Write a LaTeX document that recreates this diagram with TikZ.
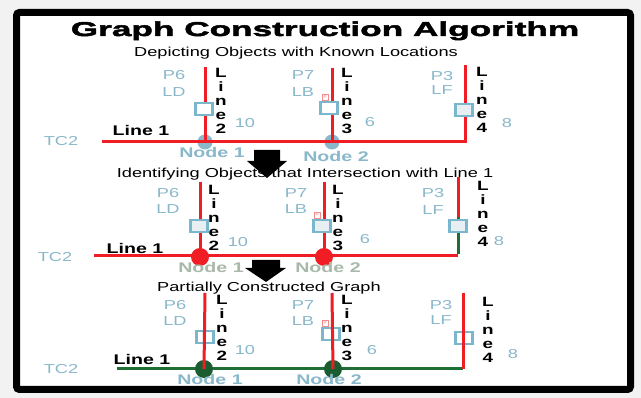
\documentclass[tikz,border=0pt]{standalone}
\usepackage{fontspec}
\setmainfont{Liberation Sans}[FakeStretch=1.4]
\newfontfamily\titlefont{Liberation Sans}[FakeStretch=1.76,BoldFeatures={FakeBold=2.5}]
\definecolor{bgc}{HTML}{F2F2F2}
\definecolor{redc}{HTML}{F01E24}
\definecolor{lbc}{HTML}{8AB8CB}
\definecolor{sqc}{HTML}{7AB6CC}
\definecolor{sqfill}{HTML}{E8EFF3}
\definecolor{grayn}{HTML}{A8B8A9}
\definecolor{greenc}{HTML}{1E6E35}
\definecolor{dgreen}{HTML}{1B5C31}
\definecolor{pinkc}{HTML}{F28B8B}
\begin{document}
\begin{tikzpicture}[x=1pt,y=-1pt,
 redl/.style={draw=redc,line width=3},
 greenl/.style={draw=greenc,line width=3},
 sq/.style={draw=sqc,line width=2.4,minimum width=17,minimum height=12,inner sep=0,fill=white},
 sqf/.style={sq,fill=sqfill},
 lbl/.style={text=lbc,font=\fontsize{13}{15}\selectfont,inner sep=0,anchor=base},
 vlet/.style={font=\fontsize{13.5}{14}\selectfont\bfseries,align=center,inner sep=0,anchor=north},
 nlbl/.style={text=lbc,font=\fontsize{14}{16}\selectfont\bfseries,inner sep=0,anchor=base},
 glbl/.style={nlbl,text=grayn},
 lone/.style={font=\fontsize{14}{16}\selectfont\bfseries,inner sep=0,anchor=base},
 sub/.style={font=\fontsize{13}{15}\selectfont,inner sep=0,anchor=base},
 bdot/.style={circle,fill=lbc,minimum size=15,inner sep=0},
 rdot/.style={circle,fill=redc,minimum size=18,inner sep=0},
 gdot/.style={circle,fill=dgreen,minimum size=18,inner sep=0},
 pink/.style={draw=pinkc,line width=0.8,fill=white,minimum size=6,inner sep=0,text=pinkc,font=\fontsize{6}{6}\selectfont}
]
\useasboundingbox (0,0) rectangle (641,398);
\fill[bgc] (0,0) rectangle (641,398);
\draw[line width=7,rounded corners=3,fill=white] (16.5,12.5) rectangle (630.5,389.5);

% title
\node[inner sep=0,anchor=base,font=\titlefont\bfseries\fontsize{20}{22}\selectfont] (title) at (325,36) {Graph Construction Algorithm};
\node[sub] (sub1) at (296,57) {Depicting Objects with Known Locations};

% ---------------- section 1
\node[bdot] (s1n1) at (205,142) {};
\node[bdot] (s1n2) at (332,142) {};
\coordinate (s1l) at (102,142);
\coordinate (s1r) at (465,142);
\coordinate (s1t2) at (205,67);
\coordinate (s1t3) at (332,68);
\coordinate (s1t4) at (465,65);
\draw[redl] (s1l) -- (s1r) -- (s1t4);
\draw[redl] (s1t2) -- (s1n1.center);
\draw[redl] (s1t3) -- (s1n2.center);
\node[sq] (s1q2) at (204,109) {};
\node[sq] (s1q3) at (329,108) {};
\node[sqf] (s1q4) at (464,110) {};
\node[pink] (s1p) at (325,97) {+};
\node[lbl] (s1P6) at (174,79.7) {P6};
\node[lbl] (s1LD) at (174,96.7) {LD};
\node[lbl] (s1P7) at (303,79.7) {P7};
\node[lbl] (s1LB) at (303,96.7) {LB};
\node[lbl] (s1P3) at (442,80.7) {P3};
\node[lbl] (s1LF) at (442,94.7) {LF};
\node[vlet] (s1L2) at (221,68) {L\\i\\n\\e\\2};
\node[vlet] (s1L3) at (347,68) {L\\i\\n\\e\\3};
\node[vlet] (s1L4) at (482,67) {L\\i\\n\\e\\4};
\node[lbl] (s1w2) at (245,127.7) {10};
\node[lbl] (s1w3) at (370,126.7) {6};
\node[lbl] (s1w4) at (507,127.7) {8};
\node[lone] (s1line1) at (141,136) {Line 1};
\node[lbl] (s1tc) at (61,145.7) {TC2};
\node[nlbl] (s1nl1) at (212,158) {Node 1};
\node[nlbl] (s1nl2) at (336,162) {Node 2};

% arrow 1
\fill (254,150) -- (280,150) -- (280,161) -- (287,161) -- (267,178) -- (247,161) -- (254,161) -- cycle;

% ---------------- section 2
\node[sub] (sub2) at (305,178) {Identifying Objects that Intersection with Line 1};
\coordinate (s2l) at (94,256);
\coordinate (s2r) at (458,256);
\coordinate (s2t2) at (200,182);
\coordinate (s2t3) at (324,182);
\coordinate (s2m4) at (458,217);
\coordinate (s2t4) at (458,177);
\node[rdot] (s2n1) at (200,257) {};
\node[rdot] (s2n2) at (324,257) {};
\draw[redl] (s2l) -- (s2r);
\draw[greenl] ([yshift=1.5pt]s2r) -- (s2m4);
\draw[redl] (s2m4) -- (s2t4);
\draw[redl] (s2t2) -- (s2n1.center);
\draw[redl] (s2t3) -- (s2n2.center);
\node[sqf] (s2q2) at (199,226) {};
\node[sqf] (s2q3) at (322,226) {};
\node[sqf] (s2q4) at (458,226) {};
\node[pink] (s2p) at (317,215) {+};
\node[lbl] (s2P6) at (168,197.7) {P6};
\node[lbl] (s2LD) at (168,213.7) {LD};
\node[lbl] (s2P7) at (296,197.7) {P7};
\node[lbl] (s2LB) at (296,213.7) {LB};
\node[lbl] (s2P3) at (433,197.7) {P3};
\node[lbl] (s2LF) at (433,214.7) {LF};
\node[vlet] (s2L2) at (214,185) {L\\i\\n\\e\\2};
\node[vlet] (s2L3) at (338,185) {L\\i\\n\\e\\3};
\node[vlet] (s2L4) at (483,181.5) {L\\i\\n\\e\\4};
\node[lbl] (s2w2) at (238,246.7) {10};
\node[lbl] (s2w3) at (365,243.7) {6};
\node[lbl] (s2w4) at (499,245.7) {8};
\node[lone] (s2line1) at (135,254) {Line 1};
\node[lbl] (s2tc) at (55,261.7) {TC2};
\node[glbl] (s2nl1) at (211,273) {Node 1};
\node[glbl] (s2nl2) at (328,273) {Node 2};

% arrow 2
\fill (252,260) -- (280,260) -- (280,268) -- (286,268) -- (266,282) -- (245,268) -- (252,268) -- cycle;

% ---------------- section 3
\node[sub] (sub3) at (269,291.7) {Partially Constructed Graph};
\coordinate (s3l) at (117,369);
\coordinate (s3r) at (463,369);
\coordinate (s3t2) at (205,293);
\coordinate (s3t3) at (332,293);
\coordinate (s3t4) at (463,293);
\draw[greenl] (s3l) -- (s3r);
\node[pink] (s3p) at (325,323) {+};
\node[sq] (s3q2) at (205,337) {};
\node[sq] (s3q3) at (331,334) {};
\node[sq] (s3q4) at (464,338) {};
\node[gdot] (s3n1) at (204,369) {};
\node[gdot] (s3n2) at (333,369) {};
\draw[redl] (s3t2) -- (s3n1.center);
\draw[redl] (s3t3) -- (s3n2.center);
\draw[redl] (s3t4) -- (s3r);
\node[lbl] (s3P6) at (175,309.7) {P6};
\node[lbl] (s3LD) at (175,325.7) {LD};
\node[lbl] (s3P7) at (303,309.7) {P7};
\node[lbl] (s3LB) at (303,325.7) {LB};
\node[lbl] (s3P3) at (441,309.7) {P3};
\node[lbl] (s3LF) at (441,324.7) {LF};
\node[vlet] (s3L2) at (222,295) {L\\i\\n\\e\\2};
\node[vlet] (s3L3) at (347,295) {L\\i\\n\\e\\3};
\node[vlet] (s3L4) at (488,297) {L\\i\\n\\e\\4};
\node[lbl] (s3w2) at (245,354.7) {10};
\node[lbl] (s3w3) at (372,354.7) {6};
\node[lbl] (s3w4) at (513,358.7) {8};
\node[lone] (s3line1) at (142,365) {Line 1};
\node[lbl] (s3tc) at (61,373.7) {TC2};
\node[nlbl] (s3nl1) at (210,385) {Node 1};
\node[nlbl] (s3nl2) at (329,385) {Node 2};
\end{tikzpicture}
\end{document}
